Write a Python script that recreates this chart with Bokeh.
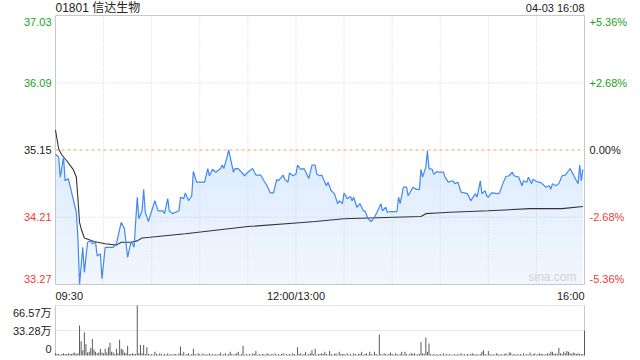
import numpy as np
from bokeh.plotting import figure
from bokeh.layouts import column
from bokeh.models import Range1d
from bokeh.core.properties import value
from bokeh.embed import file_html
from bokeh.resources import INLINE

# ---------------- data ----------------
title_text = "01801 信达生物"
time_text = "04-03 16:08"
prev_close = 35.15
price_ticks = [37.03, 36.09, 35.15, 34.21, 33.27]
price_tick_labels = ["37.03", "36.09", "35.15", "34.21", "33.27"]
pct_tick_labels = ["+5.36%", "+2.68%", "0.00%", "-2.68%", "-5.36%"]
x_tick_minutes = [0, 150, 330]
x_tick_labels = ["09:30", "12:00/13:00", "16:00"]
grid_minutes = [30, 60, 90, 120, 150, 180, 210, 240, 270, 300]
vol_ticks = [66.57, 33.28, 0]
vol_tick_labels = ["66.57万", "33.28万", "0"]

# minutes since 09:30 (trading time, lunch removed)
price_minutes = [0, 2, 3, 5, 6, 8, 10, 13, 14, 15, 17, 18, 20, 22, 23, 25, 26, 28, 29, 31,
                 36, 38, 41, 43, 45, 47, 48, 49, 51, 52, 54, 55, 56, 58, 59, 62, 64, 67, 68, 70,
                 71, 73, 75, 77, 78, 80, 81, 83, 85, 86, 88, 93, 95, 96, 98, 100, 103, 104, 105, 107,
                 108, 109, 111, 112, 114, 118, 120, 123, 125, 128, 130, 132, 134, 136, 138, 139, 142, 143, 145, 146,
                 148, 150, 151, 153, 155, 156, 158, 160, 162, 163, 165, 166, 169, 170, 172, 174, 176, 177, 179, 180,
                 182, 184, 185, 186, 188, 190, 192, 193, 195, 197, 199, 201, 203, 204, 206, 207, 209, 213, 214, 215,
                 217, 219, 220, 223, 225, 227, 228, 229, 231, 232, 233, 235, 236, 238, 239, 242, 243, 245, 248, 249,
                 251, 253, 257, 259, 262, 263, 265, 266, 268, 269, 270, 272, 276, 277, 279, 281, 283, 285, 286, 289,
                 291, 292, 294, 295, 297, 298, 300, 303, 306, 308, 309, 310, 312, 314, 316, 318, 320, 321, 322, 325,
                 326, 327, 328, 329]
prices = [35.09, 35.05, 34.77, 35.05, 34.72, 34.75, 34.56, 34.28, 33.91, 33.27, 33.79, 33.44, 33.86, 33.88, 33.84, 33.86, 33.67, 33.70, 33.35, 33.79,
          33.79, 33.84, 34.14, 34.05, 33.65, 33.86, 33.84, 33.79, 34.49, 34.19, 34.30, 34.60, 34.28, 34.15, 34.23, 34.44, 34.30, 34.30, 34.26, 34.47,
          34.30, 34.26, 34.28, 34.30, 34.49, 34.47, 34.55, 34.44, 34.51, 34.85, 34.70, 34.70, 34.89, 34.79, 34.88, 34.84, 34.89, 34.94, 34.89, 35.05,
          35.15, 35.05, 34.84, 34.89, 34.89, 34.79, 34.84, 34.89, 34.80, 34.80, 34.72, 34.65, 34.55, 34.55, 34.74, 34.72, 34.80, 34.74, 34.70, 34.83,
          34.79, 34.81, 34.94, 34.88, 34.89, 34.85, 34.75, 34.94, 34.94, 34.81, 34.79, 34.80, 34.65, 34.70, 34.58, 34.54, 34.40, 34.44, 34.40, 34.55,
          34.47, 34.50, 34.44, 34.49, 34.35, 34.40, 34.30, 34.30, 34.19, 34.15, 34.21, 34.30, 34.40, 34.30, 34.35, 34.28, 34.29, 34.29, 34.49, 34.40,
          34.63, 34.63, 34.51, 34.63, 34.60, 34.60, 34.88, 34.77, 34.91, 35.14, 34.89, 34.88, 34.81, 34.85, 34.84, 34.84, 34.77, 34.70, 34.72, 34.68,
          34.70, 34.56, 34.54, 34.44, 34.54, 34.49, 34.72, 34.54, 34.58, 34.51, 34.49, 34.55, 34.54, 34.55, 34.68, 34.78, 34.79, 34.84, 34.79, 34.77,
          34.65, 34.72, 34.70, 34.77, 34.68, 34.74, 34.71, 34.69, 34.63, 34.65, 34.60, 34.68, 34.65, 34.68, 34.79, 34.80, 34.86, 34.89, 34.85, 34.72,
          34.68, 34.94, 34.72, 34.88]

avg_minutes = [0, 2, 4, 7, 11, 13, 14, 15, 16, 18, 24, 31, 38, 41, 47, 51, 54, 59, 81, 116,
               120, 150, 162, 180, 211, 228, 231, 238, 246, 270, 296, 316, 329]
avg_prices = [35.43, 35.16, 35.08, 35.00, 34.88, 34.77, 34.47, 34.14, 34.05, 33.92, 33.87, 33.84, 33.82, 33.86, 33.86, 33.88, 33.92, 33.93, 33.98, 34.07,
              34.08, 34.13, 34.15, 34.19, 34.21, 34.22, 34.26, 34.27, 34.28, 34.30, 34.33, 34.33, 34.36]

# volume per minute, in 万 shares (minutes 0..330)
volumes = [3, 2, 2, 1, 2, 3, 2, 2, 3, 2,
           2, 3, 4, 2, 3, 40, 19, 7, 31, 15,
           4, 5, 10, 22, 8, 5, 3, 4, 9, 4,
           3, 9, 4, 11, 17, 5, 4, 2, 9, 3,
           21, 9, 8, 4, 3, 13, 2, 2, 3, 2,
           2, 66.57, 3, 14, 3, 14, 2, 11, 2, 1,
           2, 1, 5, 2, 1, 3, 2, 1, 2, 1,
           3, 1, 2, 1, 2, 2, 1, 3, 12, 2,
           5, 1, 2, 3, 1, 2, 9, 2, 1, 3,
           2, 1, 3, 1, 2, 1, 3, 1, 2, 1,
           2, 1, 2, 4, 1, 2, 3, 1, 2, 5,
           2, 1, 2, 3, 5, 1, 2, 13, 1, 2,
           1, 2, 1, 3, 2, 6, 1, 2, 1, 2,
           2, 1, 3, 2, 1, 2, 1, 3, 1, 2,
           1, 2, 3, 1, 2, 1, 2, 1, 3, 2,
           1, 11, 2, 3, 1, 2, 5, 1, 2, 3,
           7, 2, 9, 1, 2, 2, 3, 2, 5, 2,
           1, 6, 2, 1, 2, 3, 1, 5, 2, 2,
           2, 1, 3, 1, 2, 1, 3, 2, 1, 2,
           2, 5, 1, 2, 3, 1, 5, 2, 1, 5,
           2, 1, 28, 2, 1, 3, 2, 1, 2, 4,
           2, 1, 3, 2, 1, 2, 5, 1, 5, 2,
           1, 2, 3, 2, 3, 1, 2, 2, 18, 3,
           2, 24, 5, 16, 2, 1, 2, 1, 2, 1,
           2, 1, 3, 1, 2, 1, 2, 1, 1, 2,
           1, 2, 1, 3, 1, 2, 1, 2, 1, 2,
           3, 2, 1, 2, 1, 2, 5, 7, 2, 1,
           6, 2, 1, 2, 1, 3, 2, 1, 2, 1,
           2, 3, 1, 4, 4, 1, 2, 1, 2, 1,
           2, 1, 3, 1, 2, 1, 4, 1, 2, 3,
           1, 2, 3, 2, 2, 1, 2, 3, 2, 5,
           5, 2, 3, 2, 10, 3, 2, 5, 3, 6,
           5, 3, 2, 4, 3, 2, 3, 2, 2, 2,
           33]

# ---------------- styles / layout ----------------
FONT = value("Liberation Sans, Noto Sans CJK SC, sans-serif")
GREEN = "#1a9f1a"
RED = "#ee3b3b"
DARK = "#222222"
tick_colors = [GREEN, GREEN, DARK, RED, RED]
BLUE = "#4189ef"
GRID = "#cfcfcf"
BORDER = "#c8c8c8"

W = 640
PLOT_L, PLOT_R = 55, 584          # pixel edges of the plotting box
H1, P1_T, P1_B = 300, 15, 284     # main panel height and box top/bottom
H2, P2_T, P2_B = 60, 5, 55        # volume panel height and box top/bottom

x0, x1 = 0, 330
ymin, ymax = price_ticks[-1], price_ticks[0]
kx = (PLOT_R - PLOT_L) / (x1 - x0)
xr_start = x0 - PLOT_L / kx
xr_end = x1 + (W - PLOT_R) / kx
ky = (P1_B - P1_T) / (ymax - ymin)
yr1 = Range1d(ymin - (H1 - P1_B) / ky, ymax + P1_T / ky)

def make_fig(h, yr, xr):
    f = figure(width=W, height=h, x_range=xr, y_range=yr, output_backend="svg",
               toolbar_location=None, min_border=0)
    f.axis.visible = False
    f.grid.visible = False
    f.outline_line_color = None
    f.background_fill_color = "white"
    f.border_fill_color = "white"
    return f

p = make_fig(H1, yr1, Range1d(xr_start, xr_end))

# grid
p.segment(x0=grid_minutes, y0=[ymin] * len(grid_minutes), x1=grid_minutes, y1=[ymax] * len(grid_minutes),
          line_color=GRID, line_dash="1 2", line_width=1)
hg = [price_ticks[1], price_ticks[3]]
p.segment(x0=[x0] * 2, y0=hg, x1=[x1] * 2, y1=hg, line_color=GRID, line_dash="1 2", line_width=1)

pm = np.array(price_minutes, dtype=float)
pp = np.array(prices)
p.varea(x=pm, y1=np.full_like(pp, ymin), y2=pp, fill_color="#dde8fb", fill_alpha=0.35)
for L in np.linspace(ymin, prev_close, 12):
    p.varea(x=pm, y1=np.full_like(pp, L), y2=np.maximum(pp, L), fill_color=BLUE, fill_alpha=0.012)

p.segment(x0=[x0], y0=[prev_close], x1=[x1], y1=[prev_close], line_color="#f5a35e",
          line_dash="3 3", line_width=1)
p.quad(left=[x0], right=[x1], bottom=[ymin], top=[ymax], fill_color=None, line_color=BORDER, line_width=1)
p.line(avg_minutes, avg_prices, line_color="#333333", line_width=1.1)
p.line(price_minutes, prices, line_color=BLUE, line_width=1.2)

def txt(fig, xs, ys, texts, colors, align, xo=0, yo=0, size="11px"):
    fig.text(x=xs, y=ys, text=texts, text_color=colors, text_align=align, text_baseline="middle",
             x_offset=xo, y_offset=yo, text_font=FONT, text_font_size=size)

n = len(price_ticks)
yoffs = [6] + [0] * (n - 2) + [-6]   # screen px (down positive)
for i in range(n):
    txt(p, [x0], [price_ticks[i]], [price_tick_labels[i]], [tick_colors[i]], "right", -4, yoffs[i])
    txt(p, [x1], [price_ticks[i]], [pct_tick_labels[i]], [tick_colors[i]], "left", 5, yoffs[i])

for m, s, a in zip(x_tick_minutes, x_tick_labels, ["left", "center", "right"]):
    txt(p, [m], [ymin], [s], [DARK], a, 0, 11)

txt(p, [x0], [ymax], [title_text], [DARK], "left", 0, -8, "12px")
txt(p, [x1], [ymax], [time_text], [DARK], "right", 0, -8)
txt(p, [x1], [ymin], ["sina.com"], ["#d2d2d2"], "right", -8, -8, "12px")

# ---------------- volume ----------------
vmax = vol_ticks[0]
kv = (P2_B - P2_T) / vmax
yr2 = Range1d(0 - (H2 - P2_B) / kv, vmax + P2_T / kv)
pv = make_fig(H2, yr2, p.x_range)
vg = [vol_ticks[0], vol_ticks[1]]
pv.segment(x0=[x0] * 2, y0=vg, x1=[x1] * 2, y1=vg, line_color=GRID, line_dash="1 1", line_width=1)
pv.segment(x0=[x0, x1], y0=[0, 0], x1=[x0, x1], y1=[vmax, vmax], line_color=BORDER, line_width=1)
pv.vbar(x=list(range(len(volumes))), top=volumes, width=0.6, fill_color="#555555", line_color=None)

nv = len(vol_ticks)
vyo = [7] + [0] * (nv - 2) + [-7]
for i in range(nv):
    txt(pv, [x0], [vol_ticks[i]], [vol_tick_labels[i]], [DARK], "right", -4, vyo[i])

layout = column(p, pv, spacing=0)
open("out.html", "w").write(file_html(layout, INLINE))
